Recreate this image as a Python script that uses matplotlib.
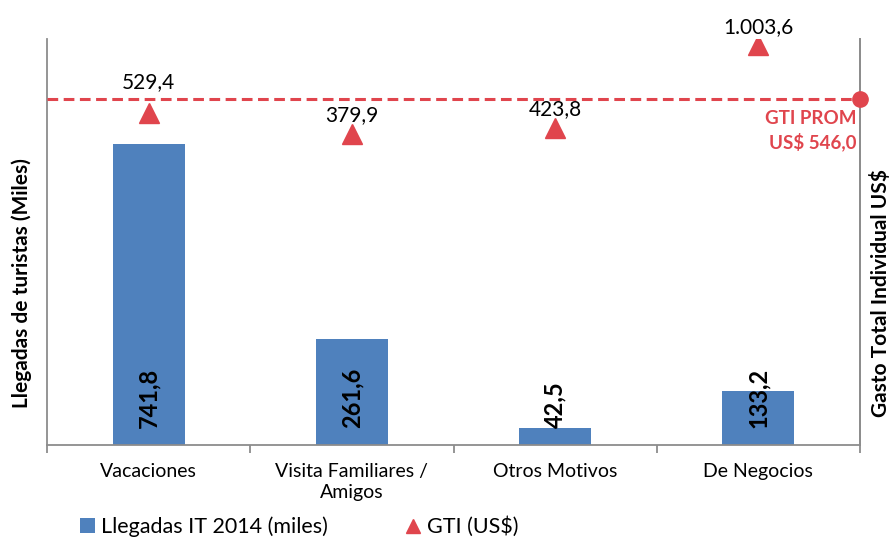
import matplotlib
matplotlib.use('Agg')
import matplotlib.pyplot as plt
from matplotlib.lines import Line2D
from matplotlib.patches import Patch

plt.rcParams['font.family'] = ['Lato', 'DejaVu Sans']

# data
categorias = ['Vacaciones', 'Visita Familiares /\nAmigos', 'Otros Motivos', 'De Negocios']
llegadas = [741.8, 261.6, 42.5, 133.2]          # miles
gti = [529.4, 379.9, 423.8, 1003.6]             # US$
gti_prom = 546.0
etiq_llegadas = ['741,8', '261,6', '42,5', '133,2']
etiq_gti = ['529,4', '379,9', '423,8', '1.003,6']

azul = '#4F81BD'
rojo = '#E0454D'
gris = '#8C8C8C'

fig = plt.figure(figsize=(8.94, 5.41), dpi=100)
ax = fig.add_axes([0.0526, 0.1775, 0.9094, 0.7505])
x = list(range(len(categorias)))

ax.bar(x, llegadas, width=0.355, color=azul, zorder=2)
ax.set_xlim(-0.5, len(categorias) - 0.5)
ax.set_ylim(0, 1000)

for xi, lab in zip(x, etiq_llegadas):
    ax.annotate(lab, (xi, 0), xytext=(0, 12), textcoords='offset points',
                rotation=90, ha='center', va='bottom', fontsize=17,
                fontweight='bold', color='black', zorder=4)

# ejes
ax.spines['top'].set_visible(False)
for s in ['left', 'bottom', 'right']:
    ax.spines[s].set_color(gris)
    ax.spines[s].set_linewidth(1.3)
ax.set_yticks([])
ax.set_xticks(x)
ax.set_xticklabels(categorias, fontsize=14, linespacing=1.3)
ax.tick_params(axis='x', which='major', length=0, pad=13)
ax.set_xticks([i - 0.5 for i in range(len(categorias) + 1)], minor=True)
ax.tick_params(axis='x', which='minor', length=6, width=1.3, color=gris)

ax2 = ax.twinx()
ax2.set_ylim(-1817, 1049)
ax2.set_yticks([])
for s in ['top', 'left', 'bottom']:
    ax2.spines[s].set_visible(False)
ax2.spines['right'].set_color(gris)
ax2.spines['right'].set_linewidth(1.3)
ax2.plot(x, gti, linestyle='none', marker='^', markersize=15, color=rojo, zorder=3)
offsets = [15, 6, 6, 6]
for xi, v, lab, off in zip(x, gti, etiq_gti, offsets):
    ax2.annotate(lab, (xi, v), xytext=(0, off), textcoords='offset points',
                 ha='center', va='bottom', fontsize=15, color='black')

fig.text(0.024, 0.477, 'Llegadas de turistas (Miles)', rotation=90,
         ha='center', va='center', fontsize=15, fontweight='bold')
fig.text(0.985, 0.458, 'Gasto Total Individual US$', rotation=90,
         ha='center', va='center', fontsize=15, fontweight='bold')

# promedio GTI (linea de referencia dibujada en la parte alta del grafico)
linea_y = 0.852
ax2.plot([0, 1], [linea_y, linea_y], transform=ax2.transAxes, color=rojo,
         linestyle=(0, (3.5, 1.8)), linewidth=2.2, clip_on=False, zorder=3)
ax2.plot([1], [linea_y], transform=ax2.transAxes, marker='o', markersize=11,
         color=rojo, clip_on=False, zorder=4)
ax2.text(0.996, linea_y - 0.027,
         'GTI PROM\nUS$ ' + f'{gti_prom:.1f}'.replace('.', ','),
         transform=ax2.transAxes, ha='right', va='top', fontsize=13.5,
         fontweight='bold', color=rojo, linespacing=1.35)

handles = [Patch(facecolor=azul, edgecolor='none'),
           Line2D([], [], linestyle='none', marker='^', markersize=10, color=rojo)]
fig.legend(handles, ['Llegadas IT 2014 (miles)', 'GTI (US$)'], loc='center left',
           bbox_to_anchor=(0.089, 0.026), ncol=2, frameon=False, fontsize=15.5,
           handlelength=0.7, handleheight=0.7, handletextpad=0.3, columnspacing=3.6,
           borderaxespad=0, borderpad=0)

fig.savefig('out.png', dpi=100)
